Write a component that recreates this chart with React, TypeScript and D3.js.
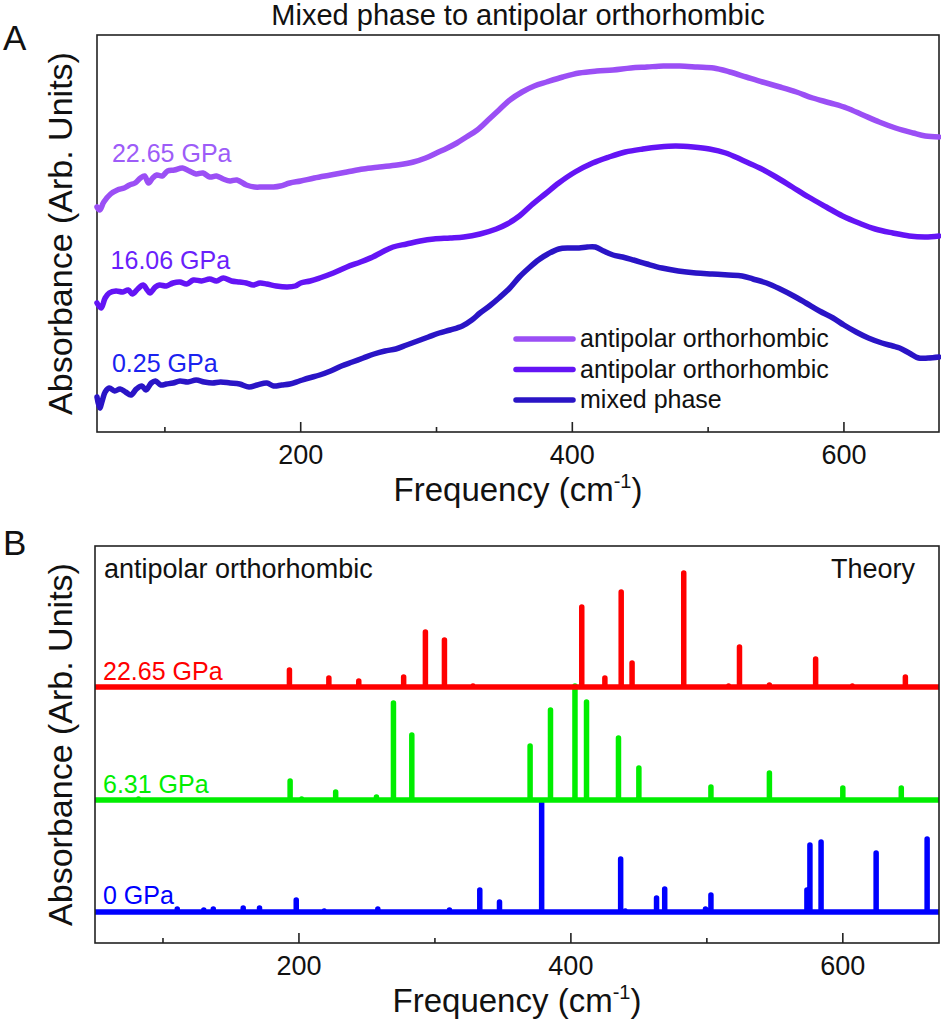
import * as d3 from 'd3';

// ---- Panel A: measured absorbance (arbitrary units) ----
const freqA2265 = [50, 52, 55, 60, 65, 70, 74, 78, 82, 85, 88, 91, 94, 98, 102, 107, 113, 118, 123, 128, 133, 138, 143, 148, 153, 160, 166, 172, 180, 185, 192, 200, 210, 222, 234, 246, 258, 271, 283, 292, 300, 308, 315, 322, 330, 338, 346, 354, 363, 372, 381, 393, 405, 418, 430, 443, 455, 467, 479, 492, 504, 516, 528, 540, 553, 565, 577, 590, 602, 614, 626, 638, 651, 660, 670];
const absA2265 = [2.25, 2.22, 2.30, 2.38, 2.42, 2.44, 2.47, 2.49, 2.54, 2.56, 2.49, 2.54, 2.57, 2.56, 2.61, 2.62, 2.64, 2.61, 2.58, 2.59, 2.55, 2.56, 2.53, 2.51, 2.52, 2.47, 2.45, 2.45, 2.45, 2.46, 2.49, 2.51, 2.54, 2.57, 2.60, 2.63, 2.65, 2.67, 2.70, 2.74, 2.79, 2.84, 2.89, 2.95, 3.02, 3.12, 3.22, 3.32, 3.40, 3.46, 3.50, 3.55, 3.59, 3.61, 3.62, 3.64, 3.65, 3.66, 3.66, 3.65, 3.64, 3.60, 3.55, 3.50, 3.45, 3.40, 3.34, 3.29, 3.24, 3.17, 3.10, 3.04, 2.99, 2.96, 2.95];

const freqA1606 = [50, 53, 56, 59, 64, 69, 73, 76, 80, 84, 87, 89, 93, 96, 101, 106, 111, 116, 121, 127, 133, 138, 143, 149, 155, 160, 165, 170, 175, 182, 190, 196, 200, 207, 214, 224, 234, 244, 253, 260, 268, 278, 288, 298, 310, 320, 332, 344, 352, 361, 370, 380, 390, 402, 415, 427, 439, 452, 464, 476, 489, 501, 513, 525, 538, 550, 562, 574, 587, 599, 611, 623, 636, 648, 660, 670];
const absA1606 = [1.29, 1.24, 1.34, 1.39, 1.41, 1.40, 1.42, 1.38, 1.43, 1.47, 1.42, 1.39, 1.45, 1.47, 1.46, 1.49, 1.50, 1.48, 1.52, 1.51, 1.53, 1.51, 1.54, 1.51, 1.50, 1.49, 1.47, 1.49, 1.48, 1.46, 1.45, 1.46, 1.49, 1.51, 1.54, 1.59, 1.65, 1.70, 1.75, 1.80, 1.85, 1.88, 1.91, 1.93, 1.94, 1.95, 1.98, 2.03, 2.08, 2.16, 2.27, 2.38, 2.49, 2.60, 2.69, 2.75, 2.80, 2.83, 2.85, 2.86, 2.85, 2.83, 2.79, 2.72, 2.64, 2.55, 2.45, 2.35, 2.25, 2.16, 2.09, 2.03, 1.99, 1.96, 1.95, 1.96];

const freqA025 = [50, 52, 54, 56, 59, 63, 67, 71, 75, 79, 83, 86, 90, 93, 97, 101, 106, 111, 117, 123, 129, 135, 141, 148, 155, 162, 168, 175, 180, 186, 192, 199, 206, 214, 222, 230, 238, 246, 254, 262, 270, 278, 286, 294, 302, 310, 319, 326, 332, 339, 346, 354, 361, 368, 375, 382, 390, 398, 405, 411, 417, 423, 430, 437, 445, 455, 466, 478, 491, 503, 515, 525, 533, 543, 553, 563, 572, 582, 592, 600, 609, 618, 628, 636, 641, 648, 655, 662, 670];
const absA025 = [0.35, 0.24, 0.32, 0.40, 0.44, 0.41, 0.43, 0.40, 0.37, 0.43, 0.46, 0.42, 0.49, 0.51, 0.47, 0.48, 0.49, 0.51, 0.50, 0.52, 0.50, 0.49, 0.50, 0.49, 0.48, 0.45, 0.47, 0.49, 0.46, 0.47, 0.48, 0.51, 0.54, 0.57, 0.61, 0.66, 0.70, 0.74, 0.78, 0.81, 0.83, 0.87, 0.91, 0.95, 0.99, 1.02, 1.06, 1.12, 1.19, 1.26, 1.34, 1.44, 1.55, 1.64, 1.72, 1.78, 1.83, 1.84, 1.84, 1.85, 1.85, 1.81, 1.77, 1.75, 1.72, 1.68, 1.64, 1.61, 1.59, 1.58, 1.57, 1.56, 1.53, 1.49, 1.43, 1.36, 1.29, 1.21, 1.14, 1.07, 1.00, 0.94, 0.89, 0.86, 0.84, 0.79, 0.74, 0.74, 0.75];

const pressuresA = ['22.65 GPa', '16.06 GPa', '0.25 GPa'];
const phasesA = ['antipolar orthorhombic', 'antipolar orthorhombic', 'mixed phase'];
const lineColorsA = ['#9b4ff5', '#6414f5', '#2a14c6'];
const labelColorsA = ['#9d5cf8', '#6a1ffb', '#1a22f0'];

// ---- Panel B: computed IR modes (frequency, intensity) ----
const modesB2265 = [193, 222, 244, 277, 293, 307, 328, 408, 425, 437, 445, 483, 516, 524, 546, 580, 607, 646];
const intB2265 = [0.17, 0.09, 0.06, 0.10, 0.55, 0.47, 0.01, 0.80, 0.09, 0.95, 0.24, 1.14, 0.01, 0.40, 0.02, 0.28, 0.01, 0.10];

const modesB631 = [82, 193.5, 202, 227, 257, 269.5, 283, 370, 385, 403, 411.5, 435, 450, 503, 546, 600, 643];
const intB631 = [0.01, 0.19, 0.01, 0.08, 0.03, 0.97, 0.65, 0.54, 0.90, 1.14, 0.98, 0.62, 0.32, 0.13, 0.27, 0.12, 0.12];

const modesB0 = [110.5, 130, 137, 159, 171, 198, 218.6, 258, 310.7, 333, 347.5, 378.5, 436.6, 440, 463, 469, 499, 503, 573.6, 575.8, 584, 624.5, 662];
const intB0 = [0.03, 0.02, 0.03, 0.04, 0.04, 0.12, 0.01, 0.03, 0.02, 0.22, 0.10, 1.09, 0.53, 0.01, 0.14, 0.23, 0.03, 0.17, 0.22, 0.67, 0.70, 0.59, 0.73];

const pressuresB = ['22.65 GPa', '6.31 GPa', '0 GPa'];
const offsetsB = [2.56, 1.43, 0.31];
const colorsB = ['#ff0000', '#00ee00', '#0000ff'];

const FREQ_DOMAIN: [number, number] = [50, 670];
const MAJOR_TICKS = [200, 400, 600];
const MINOR_TICKS = [100, 300, 500];

const FONT = '"Liberation Sans", Arial, sans-serif';
const AXIS = '#222';

type Box = { left: number; right: number; top: number; bottom: number };

function Frame({ box, x }: { box: Box; x: d3.ScaleLinear<number, number> }) {
  return (
    <g>
      <rect x={box.left} y={box.top} width={box.right - box.left} height={box.bottom - box.top}
        fill="none" stroke={AXIS} strokeWidth={1.6} />
      {MAJOR_TICKS.map((t) => (
        <g key={t}>
          <line x1={x(t)} x2={x(t)} y1={box.bottom} y2={box.bottom - 10} stroke={AXIS} strokeWidth={1.6} />
          <text x={x(t)} y={box.bottom + 32} textAnchor="middle" fontSize={27} fill="#111">{t}</text>
        </g>
      ))}
      {MINOR_TICKS.map((t) => (
        <line key={t} x1={x(t)} x2={x(t)} y1={box.bottom} y2={box.bottom - 5} stroke={AXIS} strokeWidth={1.6} />
      ))}
      <text x={(box.left + box.right) / 2} y={box.bottom + 69} textAnchor="middle" fontSize={33} fill="#111">
        Frequency (cm<tspan fontSize={20} dy={-13}>-1</tspan><tspan dy={13}>)</tspan>
      </text>
      <text transform={`translate(72, ${(box.top + box.bottom) / 2}) rotate(-90)`} textAnchor="middle"
        fontSize={34} fill="#111">Absorbance (Arb. Units)</text>
    </g>
  );
}

function PanelA() {
  const box: Box = { left: 97, right: 939, top: 35, bottom: 432 };
  const x = d3.scaleLinear().domain(FREQ_DOMAIN).range([box.left, box.right]);
  const y = d3.scaleLinear().domain([0, 3.97]).range([box.bottom, box.top]);
  const line = d3.line<[number, number]>()
    .x((d) => x(d[0]))
    .y((d) => y(d[1]))
    .curve(d3.curveCatmullRom.alpha(0.5));

  const series = [
    d3.zip(freqA2265, absA2265) as [number, number][],
    d3.zip(freqA1606, absA1606) as [number, number][],
    d3.zip(freqA025, absA025) as [number, number][],
  ];
  // label sits just above the start of each trace
  const labelPos = [
    { f: 61, v: 2.70 },
    { f: 60, v: 1.63 },
    { f: 61, v: 0.60 },
  ];

  return (
    <g>
      <text x="3" y="50" fontSize={35} fill="#111">A</text>
      <text x={(box.left + box.right) / 2} y="25" textAnchor="middle" fontSize={29} fill="#111">
        Mixed phase to antipolar orthorhombic
      </text>
      <Frame box={box} x={x} />
      {series.map((s, i) => (
        <path key={i} d={line(s) ?? ''} fill="none" stroke={lineColorsA[i]} strokeWidth={5.5}
          strokeLinejoin="round" strokeLinecap="round" />
      ))}
      {pressuresA.map((p, i) => (
        <text key={p} x={x(labelPos[i].f)} y={y(labelPos[i].v)} fontSize={25} fill={labelColorsA[i]}>{p}</text>
      ))}
      <g transform="translate(513, 339)">
        {phasesA.map((ph, i) => (
          <g key={i} transform={`translate(0, ${i * 30.5})`}>
            <line x1={3} x2={60} y1={0} y2={0} stroke={lineColorsA[i]} strokeWidth={5.5} strokeLinecap="round" />
            <text x={67} y={8} fontSize={25} fill="#111">{ph}</text>
          </g>
        ))}
      </g>
    </g>
  );
}

function PanelB() {
  const box: Box = { left: 95, right: 939, top: 546, bottom: 943 };
  const x = d3.scaleLinear().domain(FREQ_DOMAIN).range([box.left, box.right - 1]);
  const y = d3.scaleLinear().domain([0, 3.97]).range([box.bottom, box.top]);
  const line = d3.line<[number, number]>().x((d) => x(d[0])).y((d) => y(d[1]));

  const modes = [modesB2265, modesB631, modesB0];
  const ints = [intB2265, intB631, intB0];

  // baseline with one vertical stick per mode
  const stickPath = (m: number[], h: number[], base: number) => {
    const pts: [number, number][] = [[FREQ_DOMAIN[0], base]];
    m.forEach((f, k) => {
      pts.push([f, base], [f, base + h[k]], [f, base]);
    });
    pts.push([FREQ_DOMAIN[1], base]);
    return line(pts) ?? '';
  };

  const labelY = [2.63, 1.50, 0.39];

  return (
    <g>
      <text x="3" y="555" fontSize={35} fill="#111">B</text>
      <defs>
        <clipPath id="clipB">
          <rect x={box.left} y={box.top} width={box.right - box.left} height={box.bottom - box.top} />
        </clipPath>
      </defs>
      <g clipPath="url(#clipB)">
        {[2, 1, 0].map((i) => (
          <path key={i} d={stickPath(modes[i], ints[i], offsetsB[i])} fill="none" stroke={colorsB[i]}
            strokeWidth={5.5} strokeLinejoin="round" strokeLinecap="round" />
        ))}
      </g>
      <Frame box={box} x={x} />
      {pressuresB.map((p, i) => (
        <text key={p} x={box.left + 8} y={y(labelY[i])} fontSize={25} fill={colorsB[i]}>{p}</text>
      ))}
      <text x={box.left + 9} y="578" fontSize={27} fill="#111">antipolar orthorhombic</text>
      <text x="915" y="578" textAnchor="end" fontSize={27} fill="#111">Theory</text>
    </g>
  );
}

export default function App() {
  return (
    <svg width={941} height={1024} style={{ position: 'absolute', left: 0, top: 0, background: '#fff' }}
      fontFamily={FONT}>
      <rect width={941} height={1024} fill="#fff" />
      <PanelA />
      <PanelB />
    </svg>
  );
}
